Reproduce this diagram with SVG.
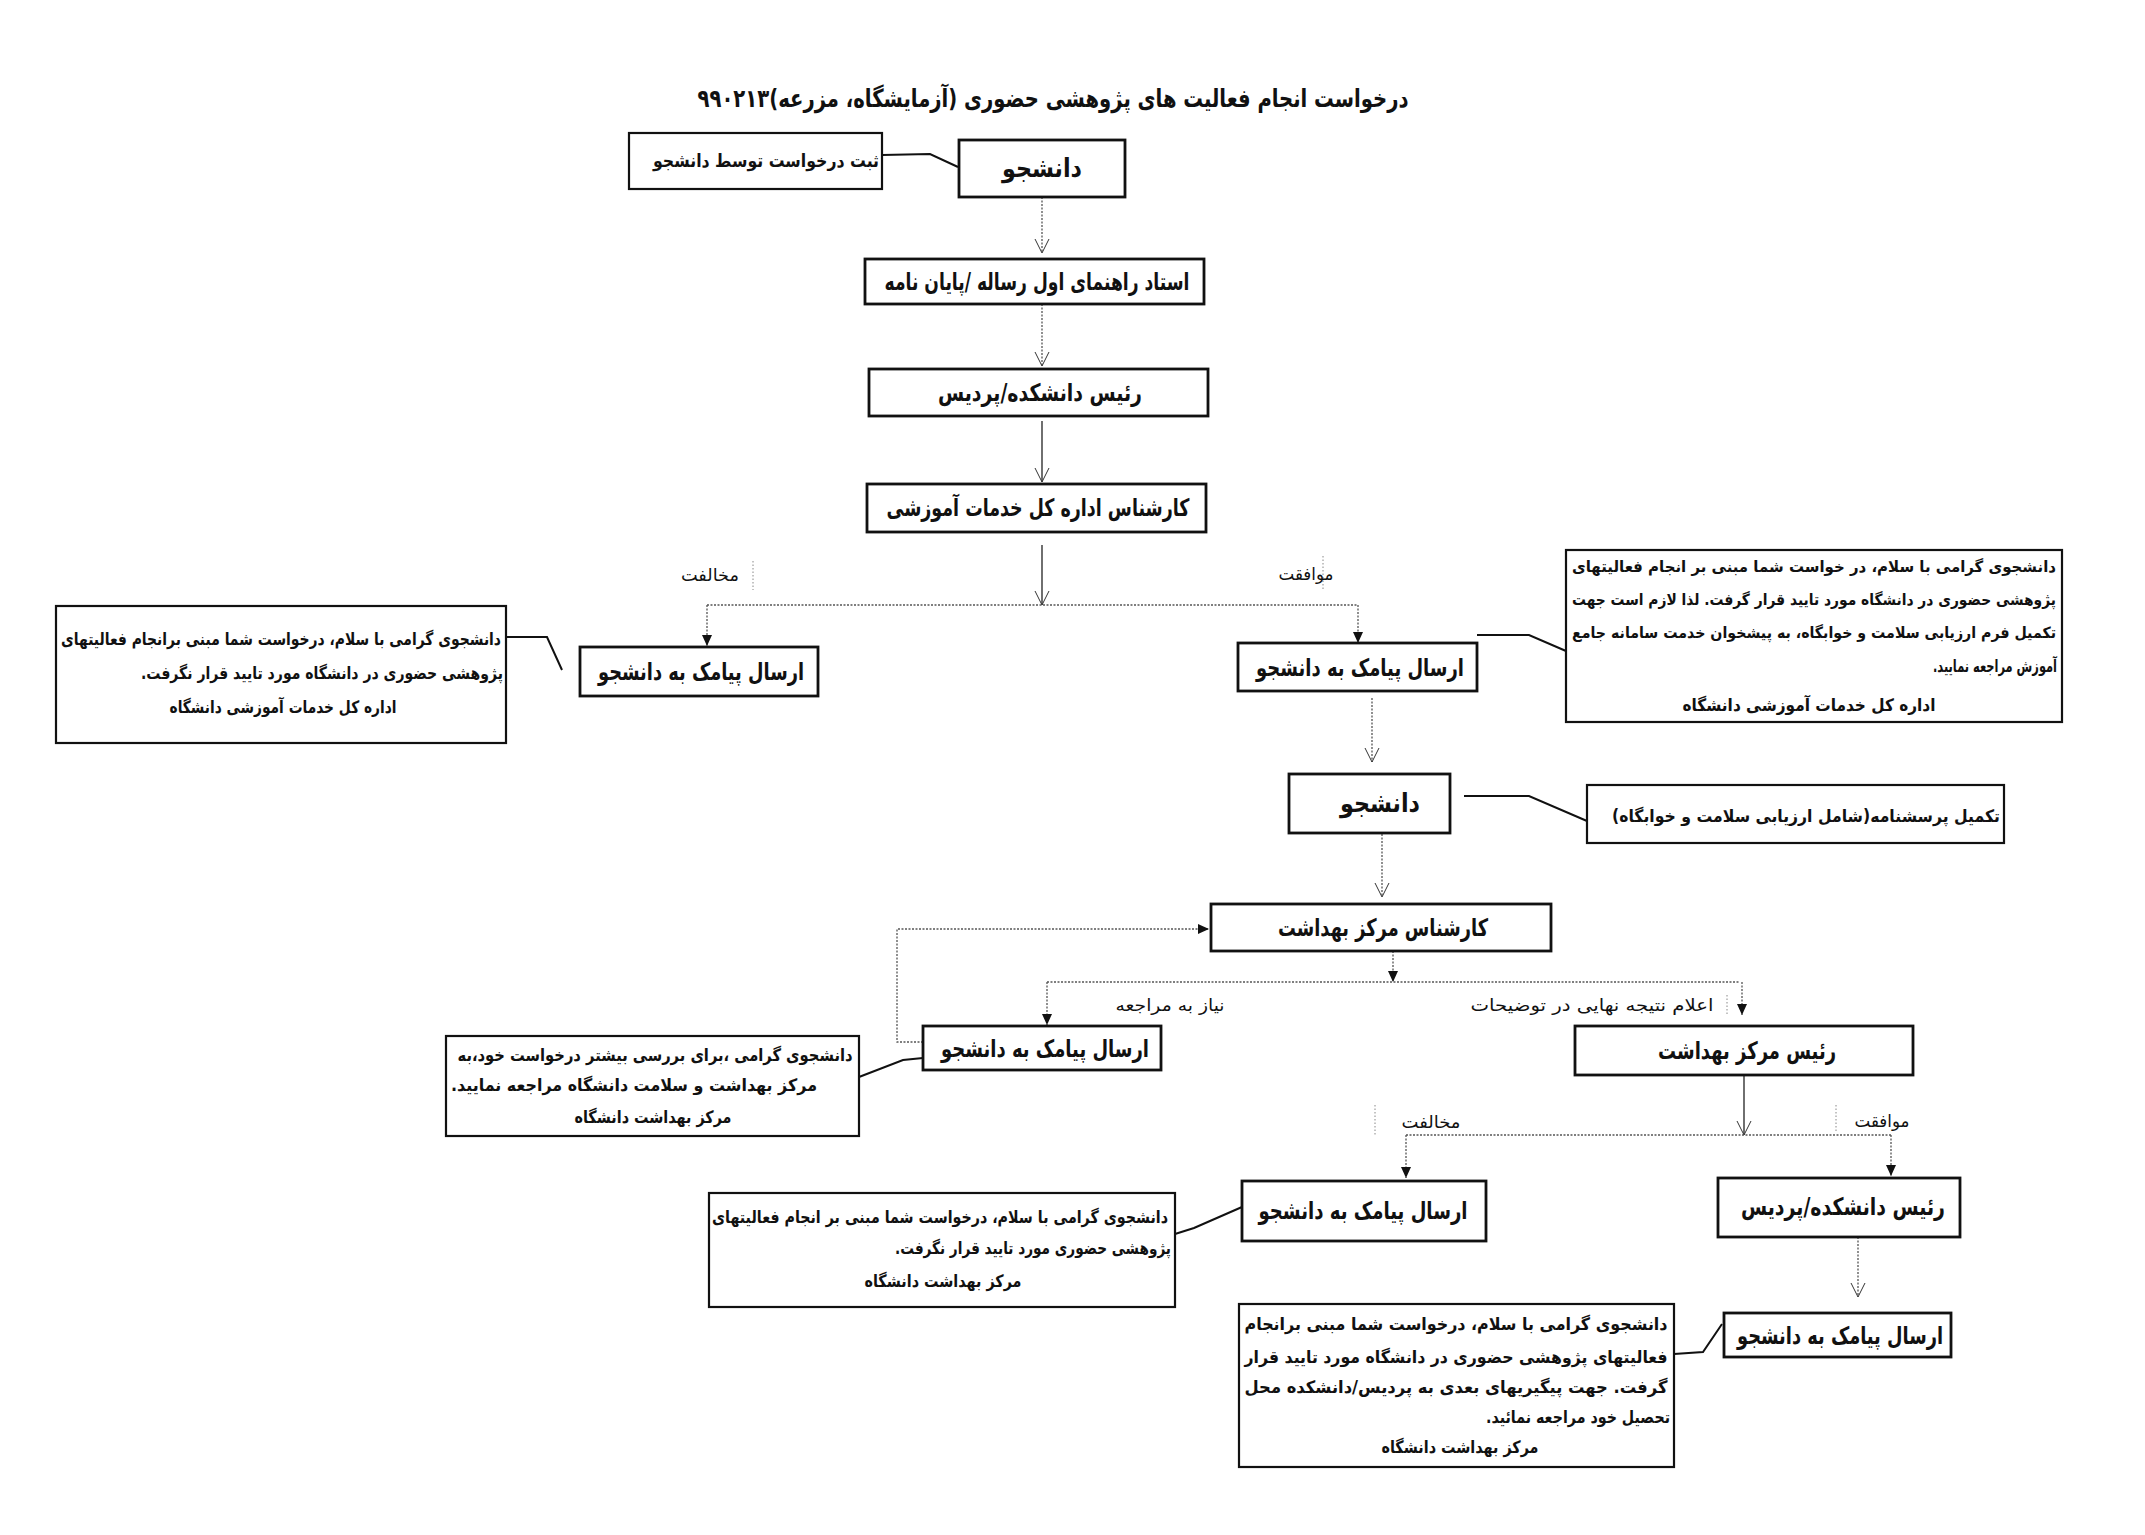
<svg xmlns="http://www.w3.org/2000/svg" width="2145" height="1535" viewBox="0 0 2145 1535">
<style>
text{font-family:"DejaVu Sans","Noto Sans",sans-serif;direction:rtl;fill:#111;text-anchor:middle}
.t{font-size:25px;font-weight:bold}
.n{font-size:24px;font-weight:bold}
.m{font-size:17px;font-weight:bold}
.ms{font-size:15.5px;font-weight:bold}
.l{font-size:17px}
.box{fill:#fff;stroke:#111;stroke-width:2.8}
.note{fill:#fff;stroke:#111;stroke-width:2.2}
.dot{fill:none;stroke:#555;stroke-width:1.3;stroke-dasharray:2 1.5}
.sol{fill:none;stroke:#222;stroke-width:1.3}
.lead{fill:none;stroke:#111;stroke-width:2}
.tick{fill:none;stroke:#888;stroke-width:1;stroke-dasharray:1.5 2}
</style>
<defs>
<marker id="vopen" viewBox="-1 -8 16 16" refX="14" refY="0" markerWidth="16" markerHeight="16" markerUnits="userSpaceOnUse" orient="auto"><path d="M0,-7 L14,0 L0,7" fill="none" stroke="#333" stroke-width="1"/></marker>
<marker id="tri" viewBox="0 -6 11 12" refX="11" refY="0" markerWidth="11" markerHeight="12" markerUnits="userSpaceOnUse" orient="auto"><path d="M0,-5 L11,0 L0,5 z" fill="#111"/></marker>
</defs>
<rect width="2145" height="1535" fill="#fff"/>

<g id="title"><text class="t" x="1053" y="107" textLength="711" lengthAdjust="spacingAndGlyphs">درخواست انجام فعالیت های پژوهشی حضوری (آزمایشگاه، مزرعه)۹۹۰۲۱۳</text></g>

<g id="connectors">
<path class="lead" d="M882,155 L930,154 L958,167"/>
<path class="dot" d="M1042,197 V253" marker-end="url(#vopen)"/>
<path class="dot" d="M1042,304 V366" marker-end="url(#vopen)"/>
<path class="sol" d="M1042,421 V482" marker-end="url(#vopen)"/>
<path class="sol" d="M1042,545 V605" marker-end="url(#vopen)"/>
<path class="dot" d="M707,605 H1358"/>
<path class="dot" d="M707,605 V646" marker-end="url(#tri)"/>
<path class="dot" d="M1358,605 V643" marker-end="url(#tri)"/>
<path class="tick" d="M753,561 V590"/>
<path class="tick" d="M1323,556 V590"/>
<path class="lead" d="M506,637 L547,637 L562,670"/>
<path class="lead" d="M1477,635 L1529,635 L1566,651"/>
<path class="dot" d="M1372,698 V762" marker-end="url(#vopen)"/>
<path class="lead" d="M1464,796 L1529,796 L1587,821"/>
<path class="dot" d="M1382,834 V897" marker-end="url(#vopen)"/>
<path class="dot" d="M923,1042 H897 V929 H1209" marker-end="url(#tri)"/>
<path class="dot" d="M1393,951 V982" marker-end="url(#tri)"/>
<path class="dot" d="M1047,982 H1740"/>
<path class="dot" d="M1047,982 V1025" marker-end="url(#tri)"/>
<path class="dot" d="M1742,982 V1015" marker-end="url(#tri)"/>
<path class="tick" d="M1727,995 V1016"/>
<path class="lead" d="M923,1058 L903,1060 L859,1077"/>
<path class="sol" d="M1744,1075 V1135" marker-end="url(#vopen)"/>
<path class="dot" d="M1406,1135 H1891"/>
<path class="dot" d="M1406,1135 V1178" marker-end="url(#tri)"/>
<path class="dot" d="M1891,1135 V1176" marker-end="url(#tri)"/>
<path class="tick" d="M1375,1105 V1135"/>
<path class="tick" d="M1836,1105 V1133"/>
<path class="lead" d="M1175,1234 L1194,1228 L1242,1207"/>
<path class="dot" d="M1858,1237 V1297" marker-end="url(#vopen)"/>
<path class="lead" d="M1674,1354 L1703,1352 L1722,1324"/>
</g>

<g id="note-submit"><rect class="note" x="629" y="133" width="253" height="56"/><text class="m" x="766" y="167" style="font-size:18px" textLength="226" lengthAdjust="spacingAndGlyphs">ثبت درخواست توسط دانشجو</text></g>
<g id="node-student1"><rect class="box" x="959" y="140" width="166" height="57"/><text class="n" x="1042" y="177" style="font-size:26px" textLength="80" lengthAdjust="spacingAndGlyphs">دانشجو</text></g>
<g id="node-supervisor"><rect class="box" x="865" y="259" width="339" height="45"/><text class="n" x="1037" y="290" textLength="305" lengthAdjust="spacingAndGlyphs">استاد راهنمای اول رساله /پایان نامه</text></g>
<g id="node-dean1"><rect class="box" x="869" y="369" width="339" height="47"/><text class="n" x="1040" y="401" textLength="204" lengthAdjust="spacingAndGlyphs">رئیس دانشکده/پردیس</text></g>
<g id="node-eduexpert"><rect class="box" x="867" y="484" width="339" height="48"/><text class="n" x="1038" y="516" textLength="303" lengthAdjust="spacingAndGlyphs">کارشناس اداره کل خدمات آموزشی</text></g>

<g id="label-reject1"><text class="l" x="710" y="581" textLength="58" lengthAdjust="spacingAndGlyphs">مخالفت</text></g>
<g id="label-accept1"><text class="l" x="1306" y="580" textLength="55" lengthAdjust="spacingAndGlyphs">موافقت</text></g>

<g id="node-sms1"><rect class="box" x="580" y="647" width="238" height="49"/><text class="n" x="701" y="680" textLength="206" lengthAdjust="spacingAndGlyphs">ارسال پیامک به دانشجو</text></g>
<g id="note-sms1"><rect class="note" x="56" y="606" width="450" height="137"/>
<text class="m" x="281" y="645" textLength="440" lengthAdjust="spacingAndGlyphs">دانشجوی گرامی با سلام، درخواست شما مبنی برانجام فعالیتهای</text>
<text class="m" x="322" y="679" textLength="362" lengthAdjust="spacingAndGlyphs">پژوهشی حضوری در دانشگاه  مورد تایید قرار نگرفت.</text>
<text class="m" x="283" y="713" textLength="227" lengthAdjust="spacingAndGlyphs">اداره کل خدمات آموزشی دانشگاه</text></g>

<g id="node-sms2"><rect class="box" x="1238" y="643" width="239" height="48"/><text class="n" x="1360" y="676" textLength="208" lengthAdjust="spacingAndGlyphs">ارسال پیامک به دانشجو</text></g>
<g id="note-sms2"><rect class="note" x="1566" y="550" width="496" height="172"/>
<text class="ms" x="1814" y="572" textLength="484" lengthAdjust="spacingAndGlyphs">دانشجوی گرامی با سلام، در خواست شما مبنی بر انجام فعالیتهای</text>
<text class="ms" x="1814" y="605" textLength="484" lengthAdjust="spacingAndGlyphs">پژوهشی حضوری در دانشگاه مورد تایید قرار گرفت. لذا لازم است جهت</text>
<text class="ms" x="1814" y="638" textLength="484" lengthAdjust="spacingAndGlyphs">تکمیل فرم ارزیابی سلامت و خوابگاه، به پیشخوان خدمت سامانه جامع</text>
<text class="m" x="1995" y="672" textLength="124" lengthAdjust="spacingAndGlyphs">آموزش مراجعه نمایید.</text>
<text class="m" x="1809" y="711" textLength="253" lengthAdjust="spacingAndGlyphs">اداره کل خدمات آموزشی دانشگاه</text></g>

<g id="node-student2"><rect class="box" x="1289" y="774" width="161" height="59"/><text class="n" x="1380" y="812" style="font-size:26px" textLength="80" lengthAdjust="spacingAndGlyphs">دانشجو</text></g>
<g id="note-form"><rect class="note" x="1587" y="785" width="417" height="58"/><text class="m" x="1806" y="822" textLength="388" lengthAdjust="spacingAndGlyphs">تکمیل پرسشنامه(شامل ارزیابی سلامت و خوابگاه)</text></g>

<g id="node-healthexpert"><rect class="box" x="1211" y="904" width="340" height="47"/><text class="n" x="1383" y="936" textLength="210" lengthAdjust="spacingAndGlyphs">کارشناس مرکز بهداشت</text></g>

<g id="label-refer"><text class="l" x="1170" y="1011" textLength="109" lengthAdjust="spacingAndGlyphs">نیاز به مراجعه</text></g>
<g id="label-final"><text class="l" x="1592" y="1011" textLength="243" lengthAdjust="spacingAndGlyphs">اعلام نتیجه نهایی در توضیحات</text></g>

<g id="node-sms3"><rect class="box" x="923" y="1026" width="238" height="44"/><text class="n" x="1045" y="1057" textLength="208" lengthAdjust="spacingAndGlyphs">ارسال پیامک به دانشجو</text></g>
<g id="note-sms3"><rect class="note" x="446" y="1036" width="413" height="100"/>
<text class="m" x="655" y="1061" textLength="395" lengthAdjust="spacingAndGlyphs">دانشجوی گرامی ،برای بررسی بیشتر درخواست خود،به</text>
<text class="m" x="634" y="1091" textLength="366" lengthAdjust="spacingAndGlyphs">مرکز بهداشت و سلامت دانشگاه مراجعه نمایید.</text>
<text class="m" x="653" y="1123" textLength="157" lengthAdjust="spacingAndGlyphs">مرکز بهداشت دانشگاه</text></g>

<g id="node-healthhead"><rect class="box" x="1575" y="1026" width="338" height="49"/><text class="n" x="1747" y="1059" textLength="178" lengthAdjust="spacingAndGlyphs">رئیس مرکز بهداشت</text></g>

<g id="label-reject2"><text class="l" x="1431" y="1128" textLength="59" lengthAdjust="spacingAndGlyphs">مخالفت</text></g>
<g id="label-accept2"><text class="l" x="1882" y="1127" textLength="55" lengthAdjust="spacingAndGlyphs">موافقت</text></g>

<g id="node-sms4"><rect class="box" x="1242" y="1181" width="244" height="60"/><text class="n" x="1363" y="1219" textLength="209" lengthAdjust="spacingAndGlyphs">ارسال پیامک به دانشجو</text></g>
<g id="note-sms4"><rect class="note" x="709" y="1193" width="466" height="114"/>
<text class="m" x="940" y="1223" textLength="456" lengthAdjust="spacingAndGlyphs">دانشجوی گرامی با سلام، درخواست شما مبنی بر انجام فعالیتهای</text>
<text class="m" x="1033" y="1254" textLength="276" lengthAdjust="spacingAndGlyphs">پژوهشی حضوری مورد تایید قرار نگرفت.</text>
<text class="m" x="943" y="1287" textLength="157" lengthAdjust="spacingAndGlyphs">مرکز بهداشت دانشگاه</text></g>

<g id="node-dean2"><rect class="box" x="1718" y="1178" width="242" height="59"/><text class="n" x="1843" y="1215" textLength="204" lengthAdjust="spacingAndGlyphs">رئیس دانشکده/پردیس</text></g>
<g id="node-sms5"><rect class="box" x="1724" y="1313" width="227" height="44"/><text class="n" x="1840" y="1344" textLength="206" lengthAdjust="spacingAndGlyphs">ارسال پیامک به دانشجو</text></g>
<g id="note-sms5"><rect class="note" x="1239" y="1304" width="435" height="163"/>
<text class="m" x="1456" y="1330" textLength="423" lengthAdjust="spacingAndGlyphs">دانشجوی گرامی با سلام، درخواست شما مبنی برانجام</text>
<text class="m" x="1456" y="1363" textLength="423" lengthAdjust="spacingAndGlyphs">فعالیتهای پژوهشی حضوری در دانشگاه مورد تایید قرار</text>
<text class="m" x="1456" y="1393" textLength="423" lengthAdjust="spacingAndGlyphs">گرفت. جهت پیگیریهای بعدی به پردیس/دانشکده محل</text>
<text class="m" x="1578" y="1423" textLength="184" lengthAdjust="spacingAndGlyphs">تحصیل خود مراجعه نمائید.</text>
<text class="m" x="1460" y="1453" textLength="157" lengthAdjust="spacingAndGlyphs">مرکز بهداشت دانشگاه</text></g>
</svg>
